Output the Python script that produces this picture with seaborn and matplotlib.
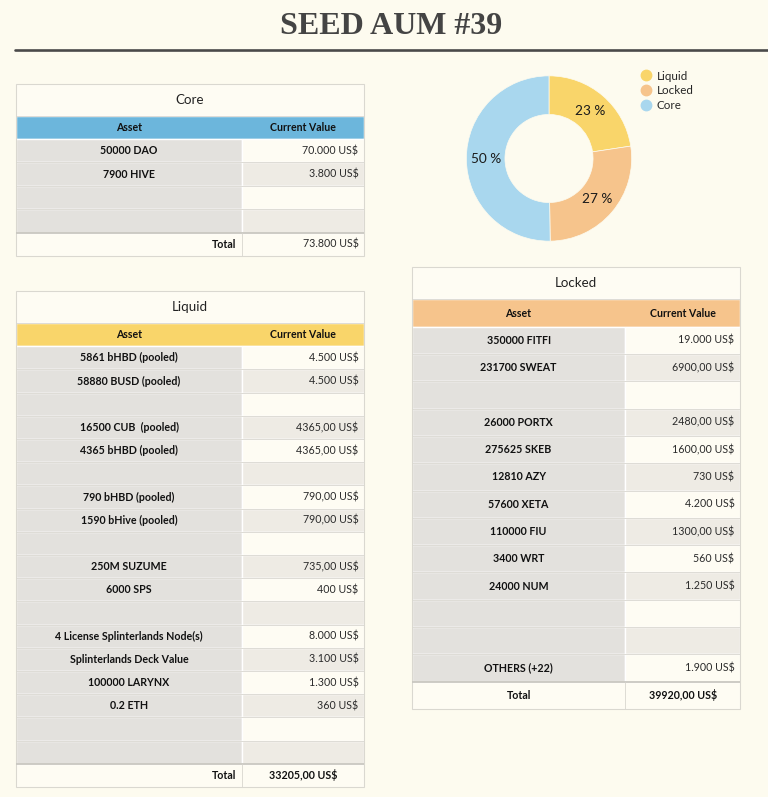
import matplotlib
matplotlib.use("Agg")
import matplotlib.pyplot as plt
from matplotlib.lines import Line2D
from matplotlib.patches import Rectangle
import seaborn as sns

# ---- data ----
core_assets = ["50000 DAO", "7900 HIVE", "", ""]
core_values = ["70.000 US$", "3.800 US$", "", ""]
core_total = "73.800 US$"

liquid_assets = ["5861 bHBD (pooled)", "58880 BUSD (pooled)", "",
                 "16500 CUB  (pooled)", "4365 bHBD (pooled)", "",
                 "790 bHBD (pooled)", "1590 bHive (pooled)", "",
                 "250M SUZUME", "6000 SPS", "",
                 "4 License Splinterlands Node(s)", "Splinterlands Deck Value",
                 "100000 LARYNX", "0.2 ETH", "", ""]
liquid_values = ["4.500 US$", "4.500 US$", "",
                 "4365,00 US$", "4365,00 US$", "",
                 "790,00 US$", "790,00 US$", "",
                 "735,00 US$", "400 US$", "",
                 "8.000 US$", "3.100 US$", "1.300 US$", "360 US$", "", ""]
liquid_total = "33205,00 US$"

locked_assets = ["350000 FITFI", "231700 SWEAT", "", "26000 PORTX", "275625 SKEB",
                 "12810 AZY", "57600 XETA", "110000 FIU", "3400 WRT", "24000 NUM",
                 "", "", "OTHERS (+22)"]
locked_values = ["19.000 US$", "6900,00 US$", "", "2480,00 US$", "1600,00 US$",
                 "730 US$", "4.200 US$", "1300,00 US$", "560 US$", "1.250 US$",
                 "", "", "1.900 US$"]
locked_total = "39920,00 US$"

alloc_labels = ["Liquid", "Locked", "Core"]
alloc_totals = [33205, 39920, 73800]

# ---- style ----
BG = "#FDFBEF"
CREAM = "#FEFCF3"
ASSET_BG = "#E3E1DD"
ALT_BG = "#EEEBE4"
LINE = "#D8D6CF"
W, H = 768, 797

sns.set_theme(style="white", rc={"figure.facecolor": BG, "axes.facecolor": BG})
plt.rcParams["font.family"] = ["Lato", "DejaVu Sans"]

pie_colors = sns.color_palette(["#F9D56A", "#F6C48C", "#A9D7EE"])
head_colors = {"Core": "#6CB6DC", "Liquid": "#F9D56A", "Locked": "#F6C48C"}


def px_axes(fig, x, y, w, h):
    return fig.add_axes([x / W, 1 - (y + h) / H, w / W, h / H])


def draw_table(ax, title, assets, values, total, title_h, total_ha="right",
               value_bold=False, value_ha="right", fs=7.7):
    n = len(assets)
    split = 0.65
    top = -1 - title_h
    rows = list(range(n))

    # title band + header
    ax.barh(-1 - title_h / 2, 1, height=title_h, left=0, color=CREAM, align="center")
    ax.barh(-0.5, 1, height=1, left=0, color=head_colors[title], align="center")
    # body cells
    centers = [i + 0.5 for i in rows]
    ax.barh(centers, split, height=1, left=0, color=ASSET_BG)
    ax.barh(centers, 1 - split, height=1, left=split,
            color=[CREAM if i % 2 == 0 else ALT_BG for i in rows])
    ax.barh(n + 0.5, 1, height=1, left=0, color=CREAM)

    ax.hlines(range(1, n), 0, 1, color=LINE, lw=0.6)
    ax.hlines([-1], 0, 1, color=LINE, lw=0.6)
    ax.hlines([n], 0, 1, color="#C9C7C0", lw=1.3)
    ax.vlines(split, n, n + 1, color=LINE, lw=0.6)
    ax.add_patch(Rectangle((0, top), 1, n + 1 - top, fill=False, ec="#DAD8D0",
                           lw=0.8, clip_on=False))

    ax.text(0.5, -1 - title_h / 2, title, ha="center", va="center",
            fontsize=9.6, color="#222222")
    ax.text(split / 2, -0.5, "Asset", ha="center", va="center",
            fontsize=7.6, fontweight="bold", color="#111111")
    ax.text((1 + split) / 2, -0.5, "Current Value", ha="center", va="center",
            fontsize=7.6, fontweight="bold", color="#111111")

    for i, (a, v) in enumerate(zip(assets, values)):
        if a:
            ax.text(split / 2, i + 0.5, a, ha="center", va="center",
                    fontsize=fs, fontweight="bold", color="#111111")
        if v:
            ax.annotate(v, xy=(1, i + 0.5), xytext=(-4, 0), textcoords="offset points",
                        ha="right", va="center", fontsize=fs, color="#2a2a2a")

    if total_ha == "right":
        ax.annotate("Total", xy=(split, n + 0.5), xytext=(-4, 0),
                    textcoords="offset points", ha="right", va="center",
                    fontsize=fs, fontweight="bold", color="#111111")
    else:
        ax.text(split / 2, n + 0.5, "Total", ha="center", va="center",
                fontsize=fs, fontweight="bold", color="#111111")
    if value_ha == "right":
        ax.annotate(total, xy=(1, n + 0.5), xytext=(-4, 0), textcoords="offset points",
                    ha="right", va="center", fontsize=fs,
                    fontweight="bold" if value_bold else "normal", color="#2a2a2a")
    else:
        ax.text((1 + split) / 2, n + 0.5, total, ha="center", va="center", fontsize=fs,
                fontweight="bold" if value_bold else "normal", color="#111111")

    ax.set_xlim(0, 1)
    ax.set_ylim(n + 1, top)
    ax.axis("off")


fig = plt.figure(figsize=(W / 100, H / 100), dpi=100, facecolor=BG)

# header
fig.text((15 + W) / 2 / W, 1 - 26 / H, "SEED AUM #39", ha="center", va="center",
         fontsize=23, fontweight="bold", color="#444444", family="Liberation Serif")
fig.add_artist(Line2D([15 / W, 1], [1 - 49.5 / H] * 2, color="#4a4a4a", lw=1.9))

# tables
ax_core = px_axes(fig, 16, 84, 348, 172)
draw_table(ax_core, "Core", core_assets, core_values, core_total, title_h=1.35)

ax_liq = px_axes(fig, 16, 291, 348, 496)
draw_table(ax_liq, "Liquid", liquid_assets, liquid_values, liquid_total, title_h=1.38,
           value_bold=True, value_ha="center")

ax_lock = px_axes(fig, 412, 267, 328, 442)
draw_table(ax_lock, "Locked", locked_assets, locked_values, locked_total, title_h=1.19,
           total_ha="center", value_bold=True, value_ha="center")

# donut
ax_pie = px_axes(fig, 449, 58.5, 200, 200)
ax_pie.pie(alloc_totals, colors=pie_colors, startangle=90, counterclock=False,
           radius=1, wedgeprops=dict(width=0.467, edgecolor=BG, linewidth=0.5),
           autopct=lambda p: f"{p:.0f} %", pctdistance=0.76,
           textprops=dict(fontsize=9.8, color="#1a1a1a"))
ax_pie.set_xlim(-1.21, 1.21)
ax_pie.set_ylim(-1.21, 1.21)
ax_pie.set_aspect("equal")
ax_pie.axis("off")

handles = [Line2D([], [], marker="o", ls="", markersize=7.5, color=c) for c in pie_colors]
fig.legend(handles, alloc_labels, loc="upper left", bbox_to_anchor=(641 / W, 1 - 70.5 / H),
           frameon=False, handlelength=0.9, handletextpad=0.45, labelspacing=0.32,
           fontsize=8.4, borderpad=0, borderaxespad=0)

fig.savefig("out.png", dpi=100, facecolor=BG)
